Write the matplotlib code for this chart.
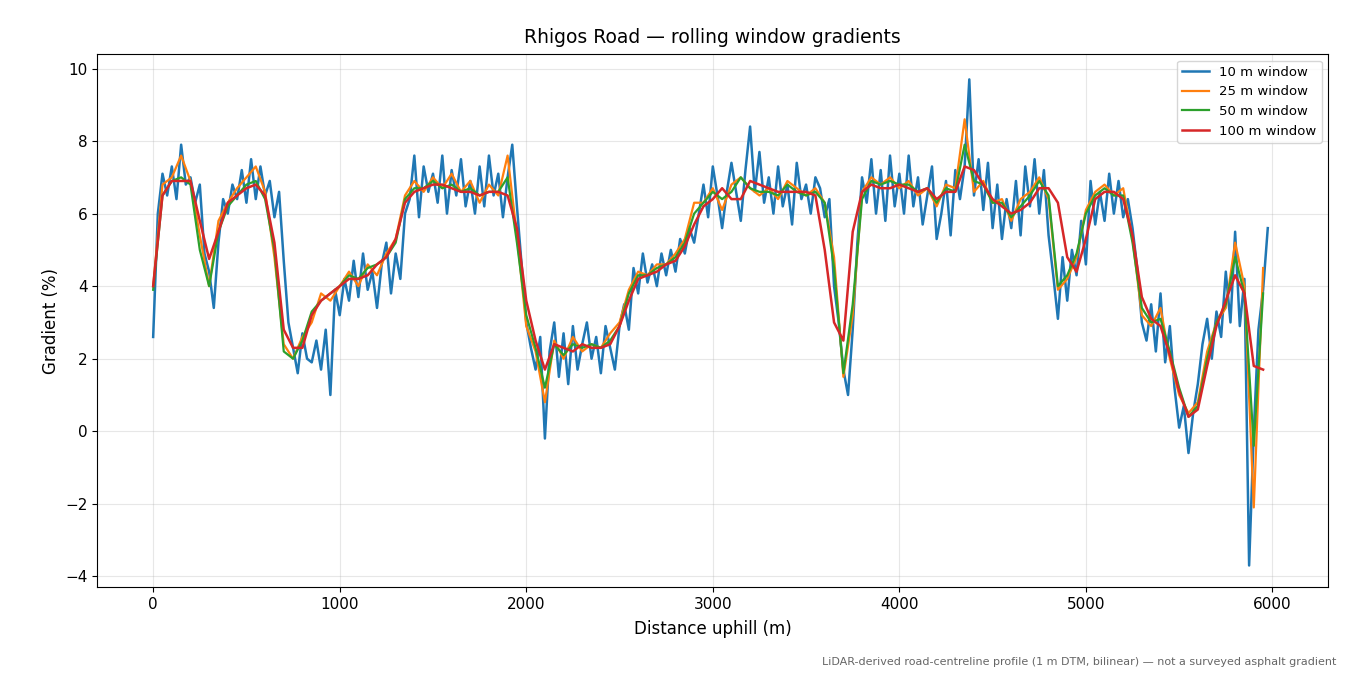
import numpy as np
import matplotlib
matplotlib.use("Agg")
import matplotlib.pyplot as plt

plt.rcParams['font.family'] = 'DejaVu Sans'

dist_10 = np.arange(0, 6000, 25)
grad_10 = [
    2.6, 6.0, 7.1, 6.5, 7.3, 6.4, 7.9, 6.8, 7.0, 6.3, 6.8, 4.9, 4.4, 3.4, 5.2, 6.4, 6.0, 6.8, 6.4, 7.2,
    6.3, 7.5, 6.4, 7.3, 6.5, 6.9, 5.9, 6.6, 4.7, 3.0, 2.3, 1.6, 2.7, 2.0, 1.9, 2.5, 1.7, 2.8, 1.0, 3.9,
    3.2, 4.2, 3.6, 4.7, 3.7, 4.9, 3.9, 4.4, 3.4, 4.6, 5.2, 3.8, 4.9, 4.2, 6.0, 6.4, 7.6, 5.9, 7.3, 6.6,
    7.1, 6.3, 7.6, 6.0, 7.2, 6.5, 7.5, 6.2, 6.9, 6.0, 7.3, 6.2, 7.6, 6.5, 7.1, 5.9, 7.0, 7.9, 6.2, 4.6,
    3.0, 2.3, 1.7, 2.6, -0.2, 2.2, 3.0, 1.5, 2.7, 1.3, 2.9, 1.7, 2.4, 3.0, 2.0, 2.6, 1.6, 2.9, 2.3, 1.7,
    2.9, 3.5, 2.8, 4.5, 3.8, 4.9, 4.1, 4.6, 4.0, 4.9, 4.3, 5.0, 4.4, 5.3, 4.9, 5.6, 5.2, 6.0, 6.8, 5.9,
    7.3, 6.5, 5.6, 6.6, 7.4, 6.6, 5.8, 7.2, 8.4, 6.6, 7.7, 6.3, 7.0, 6.0, 7.3, 6.2, 6.8, 5.7, 7.4, 6.4,
    6.8, 6.0, 7.0, 6.7, 5.9, 6.4, 4.0, 3.0, 1.7, 1.0, 2.8, 5.2, 7.0, 6.3, 7.5, 6.0, 7.2, 5.8, 7.6, 6.2,
    7.1, 6.0, 7.6, 6.2, 7.0, 5.7, 6.5, 7.3, 5.3, 6.0, 6.9, 5.4, 7.2, 6.4, 7.3, 9.7, 6.5, 7.5, 6.1, 7.4,
    5.6, 6.8, 5.3, 6.4, 5.6, 6.9, 5.4, 7.3, 6.2, 7.5, 6.0, 7.2, 5.4, 4.3, 3.1, 4.8, 3.6, 5.0, 4.3, 5.8,
    4.6, 6.9, 5.7, 6.6, 5.8, 7.1, 6.0, 6.9, 5.9, 6.4, 5.6, 4.5, 3.0, 2.5, 3.5, 2.2, 3.8, 1.9, 2.9, 1.2,
    0.1, 0.7, -0.6, 0.5, 1.3, 2.4, 3.1, 2.0, 3.3, 2.6, 4.4, 3.0, 5.5, 2.9, 4.2, -3.7, 0.0, 2.8, 3.9, 5.6,
]

# other windows, sampled every 50 m
dist_50 = np.arange(0, 6000, 50)
grad_25 = [
    4.0, 6.8, 7.0, 7.6, 6.9, 5.4, 4.0, 5.8, 6.3, 6.7,
    7.0, 7.3, 6.6, 4.8, 2.4, 2.0, 2.6, 3.0, 3.8, 3.6,
    4.0, 4.4, 4.0, 4.6, 4.3, 4.9, 5.3, 6.5, 6.9, 6.6,
    7.0, 6.7, 7.1, 6.6, 6.9, 6.3, 6.8, 6.5, 7.6, 5.4,
    2.9, 2.2, 0.8, 2.5, 2.0, 2.6, 2.2, 2.4, 2.3, 2.7,
    3.0, 3.9, 4.4, 4.3, 4.6, 4.6, 4.9, 5.3, 6.3, 6.3,
    6.7, 6.1, 6.8, 7.0, 6.7, 6.5, 6.7, 6.4, 6.9, 6.7,
    6.5, 6.7, 6.3, 4.8, 1.5, 3.2, 6.6, 7.0, 6.8, 7.0,
    6.7, 6.9, 6.5, 6.7, 6.2, 6.8, 6.7, 8.6, 6.6, 6.9,
    6.3, 6.4, 5.8, 6.4, 6.6, 7.0, 6.4, 3.9, 4.2, 4.8,
    6.1, 6.6, 6.8, 6.5, 6.7, 5.3, 3.2, 2.9, 3.4, 2.0,
    1.0, 0.5, 0.8, 2.2, 3.0, 3.4, 5.2, 4.0, -2.1, 4.5,
]
grad_50 = [
    3.9, 6.5, 6.9, 7.0, 6.8, 5.0, 4.0, 5.5, 6.2, 6.5,
    6.8, 6.9, 6.4, 5.0, 2.2, 2.0, 2.5, 3.3, 3.6, 3.8,
    4.0, 4.3, 4.2, 4.5, 4.6, 4.8, 5.2, 6.4, 6.7, 6.7,
    6.9, 6.7, 6.8, 6.6, 6.7, 6.5, 6.6, 6.6, 7.0, 5.2,
    3.2, 2.3, 1.2, 2.4, 2.1, 2.4, 2.3, 2.4, 2.3, 2.5,
    2.9, 3.8, 4.3, 4.3, 4.5, 4.6, 4.8, 5.2, 6.0, 6.3,
    6.6, 6.4, 6.6, 7.0, 6.7, 6.6, 6.6, 6.5, 6.8, 6.6,
    6.5, 6.6, 6.3, 4.5, 1.6, 3.5, 6.4, 6.9, 6.8, 6.9,
    6.8, 6.8, 6.6, 6.7, 6.3, 6.7, 6.6, 7.9, 6.9, 6.8,
    6.3, 6.3, 5.9, 6.2, 6.5, 6.9, 6.5, 4.0, 4.3, 4.9,
    6.0, 6.5, 6.7, 6.5, 6.5, 5.2, 3.4, 3.0, 3.1, 2.2,
    1.2, 0.4, 0.7, 2.0, 3.0, 3.5, 4.8, 3.8, -0.4, 3.8,
]
grad_100 = [
    4.0, 6.5, 6.9, 6.9, 6.9, 5.8, 4.75, 5.5, 6.3, 6.5,
    6.7, 6.8, 6.5, 5.2, 2.8, 2.3, 2.3, 3.2, 3.6, 3.8,
    4.0, 4.2, 4.2, 4.3, 4.6, 4.8, 5.3, 6.3, 6.6, 6.7,
    6.8, 6.8, 6.7, 6.6, 6.6, 6.5, 6.6, 6.6, 6.5, 5.6,
    3.6, 2.5, 1.7, 2.4, 2.3, 2.2, 2.4, 2.3, 2.3, 2.4,
    2.9, 3.6, 4.2, 4.3, 4.4, 4.6, 4.7, 5.1, 5.7, 6.2,
    6.4, 6.7, 6.4, 6.4, 6.9, 6.8, 6.7, 6.6, 6.6, 6.6,
    6.6, 6.5, 5.0, 3.0, 2.5, 5.5, 6.6, 6.8, 6.7, 6.7,
    6.8, 6.7, 6.6, 6.7, 6.4, 6.6, 6.6, 7.3, 7.2, 6.8,
    6.4, 6.2, 6.0, 6.1, 6.3, 6.7, 6.7, 6.3, 4.8, 4.4,
    5.3, 6.4, 6.6, 6.6, 6.4, 5.4, 3.7, 3.1, 2.9, 2.1,
    1.1, 0.4, 0.6, 1.8, 2.9, 3.6, 4.3, 3.8, 1.8, 1.7,
]

fig, ax = plt.subplots(figsize=(13.5, 6.75), dpi=100)
ax.plot(dist_10, grad_10, color='#1f77b4', lw=1.8, label='10 m window')
ax.plot(dist_50, grad_25, color='#ff7f0e', lw=1.6, label='25 m window')
ax.plot(dist_50, grad_50, color='#2ca02c', lw=1.6, label='50 m window')
ax.plot(dist_50, grad_100, color='#d62728', lw=1.8, label='100 m window')

ax.set_xlim(-300, 6300)
ax.set_ylim(-4.3, 10.4)
ax.set_title('Rhigos Road — rolling window gradients', fontsize=13.5, pad=8)
ax.set_xlabel('Distance uphill (m)', fontsize=12, labelpad=6)
ax.set_ylabel('Gradient (%)', fontsize=12)
ax.tick_params(labelsize=11)
ax.grid(True, alpha=0.3)
ax.legend(loc='upper right', fontsize=9.5)

fig.text(0.99, 0.012, 'LiDAR-derived road-centreline profile (1 m DTM, bilinear) — not a surveyed asphalt gradient',
         ha='right', va='bottom', fontsize=8, color='#666666')

plt.subplots_adjust(left=0.072, right=0.984, top=0.92, bottom=0.13)
plt.savefig('out.png', dpi=100)
